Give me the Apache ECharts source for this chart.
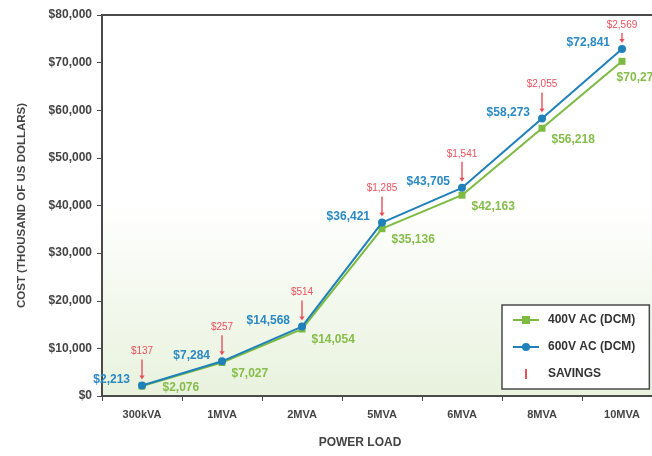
<!DOCTYPE html>
<html>
<head>
<meta charset="utf-8">
<script src="https://cdn.jsdelivr.net/npm/echarts@6/dist/echarts.min.js"></script>
<style>
  html, body { margin: 0; padding: 0; background: #ffffff; }
  #chart { width: 652px; height: 456px; }
</style>
</head>
<body>
<div id="chart"></div>
<script>
// Power load categories
const categories = ['300kVA', '1MVA', '2MVA', '5MVA', '6MVA', '8MVA', '10MVA'];
// Cost in thousand US dollars
const cost400 = [2076, 7027, 14054, 35136, 42163, 56218, 70272];
const cost600 = [2213, 7284, 14568, 36421, 43705, 58273, 72841];
const savings = [137, 257, 514, 1285, 1541, 2055, 2569];

const GREEN = '#7dba42';
const BLUE = '#1f80ba';
const RED = '#e8505c';
const AXIS = '#4a4a4a';
const FONT = '"Liberation Sans", Arial, sans-serif';

const GRID_LEFT = 102, GRID_TOP = 15, GRID_WIDTH = 560, GRID_BOTTOM = 60;
const PLOT_RIGHT = GRID_LEFT + GRID_WIDTH;
const PLOT_BOTTOM = 456 - GRID_BOTTOM;

const money = v => '$' + v.toLocaleString('en-US');

const chart = echarts.init(document.getElementById('chart'), null, { renderer: 'canvas' });

// Savings markers: small red value over a downward arrow, sitting above the 600V point
function renderSaving(params, api) {
  const idx = api.value(0);
  const pt = api.coord([idx, api.value(1)]);
  const top = params.coordSys.y;
  const labelY = Math.max(pt[1] - 34, top + 10);
  const lineTop = labelY + 8;
  const tip = pt[1] - 6;
  return {
    type: 'group',
    children: [
      { type: 'line', shape: { x1: pt[0], y1: lineTop, x2: pt[0], y2: tip - 3 },
        style: { stroke: RED, lineWidth: 1.4 } },
      { type: 'polygon', shape: { points: [[pt[0] - 2.6, tip - 4], [pt[0] + 2.6, tip - 4], [pt[0], tip]] },
        style: { fill: RED } },
      { type: 'text', x: pt[0], y: labelY,
        style: { text: money(api.value(2)), fill: RED, font: '10px ' + FONT, align: 'center', verticalAlign: 'middle' } }
    ]
  };
}

chart.setOption({
  animation: false,
  backgroundColor: '#ffffff',
  textStyle: { fontFamily: FONT },
  grid: {
    left: GRID_LEFT, top: GRID_TOP, width: GRID_WIDTH, bottom: GRID_BOTTOM,
    outerBoundsMode: 'none',
    containLabel: false,
    show: true,
    borderColor: AXIS,
    borderWidth: 2,
    backgroundColor: {
      type: 'linear', x: 0, y: 0, x2: 0, y2: 1,
      colorStops: [
        { offset: 0, color: '#ffffff' },
        { offset: 0.5, color: '#ffffff' },
        { offset: 1, color: '#e8f2dd' }
      ]
    }
  },
  legend: {
    orient: 'vertical',
    left: 502, top: 305,
    padding: [9, 14, 9, 10],
    itemGap: 15,
    itemWidth: 26, itemHeight: 10,
    backgroundColor: '#ffffff',
    borderColor: AXIS, borderWidth: 1.5, borderRadius: 0,
    textStyle: { fontFamily: FONT, fontSize: 12, fontWeight: 'bold', color: '#333333', padding: [0, 0, 0, 4] },
    data: [
      { name: '400V AC (DCM)' },
      { name: '600V AC (DCM)' },
      { name: 'SAVINGS', icon: 'path://M0,0h0.01v0.01zM12,0h2v10h-2zM26,10h-0.01v-0.01z', itemStyle: { color: RED } }
    ]
  },
  xAxis: {
    type: 'category',
    data: categories,
    boundaryGap: true,
    name: 'POWER LOAD',
    nameLocation: 'middle',
    nameGap: 41,
    nameTextStyle: { fontFamily: FONT, fontSize: 12, fontWeight: 'bold', color: '#444444', padding: [0, 44, 0, 0] },
    axisLine: { lineStyle: { color: AXIS, width: 2 } },
    axisTick: { show: true, length: 5, lineStyle: { color: AXIS, width: 1 } },
    axisLabel: { fontFamily: FONT, fontSize: 11, fontWeight: 'bold', color: '#444444', margin: 13 },
    splitLine: { show: false }
  },
  yAxis: {
    type: 'value',
    min: 0, max: 80000, interval: 10000,
    name: 'COST (THOUSAND OF US DOLLARS)',
    nameLocation: 'middle',
    nameGap: 74,
    nameRotate: 90,
    nameTextStyle: { fontFamily: FONT, fontSize: 11.5, fontWeight: 'bold', color: '#444444' },
    axisLine: { show: true, lineStyle: { color: AXIS, width: 2 } },
    axisTick: { show: true, length: 5, lineStyle: { color: AXIS, width: 1 } },
    axisLabel: { fontFamily: FONT, fontSize: 12, fontWeight: 'bold', color: '#444444', margin: 10, formatter: v => money(v) },
    splitLine: { show: false }
  },
  series: [
    {
      name: '400V AC (DCM)',
      type: 'line',
      data: cost400,
      color: GREEN,
      symbol: 'rect', symbolSize: 7,
      lineStyle: { width: 2, color: GREEN },
      itemStyle: { color: GREEN },
      label: {
        show: true, position: 'right', distance: 6,
        fontFamily: FONT, fontSize: 12, fontWeight: 'bold', color: '#86bd4a',
        formatter: p => money(p.value)
      },
      // drop labels below their point, keeping them inside the plot area
      labelLayout: p => {
        const r = p.labelRect;
        let dy = 11, dx = 0;
        if (r.y + r.height + dy > PLOT_BOTTOM - 2) {
          dx = 11;
          dy = PLOT_BOTTOM - 2 - (r.y + r.height);
        }
        if (r.x + r.width > PLOT_RIGHT - 2) {
          dx = PLOT_RIGHT - 2 - (r.x + r.width);
          dy = 16;
        }
        return { dx: dx, dy: dy };
      },
      z: 2
    },
    {
      name: '600V AC (DCM)',
      type: 'line',
      data: cost600,
      color: BLUE,
      symbol: 'circle', symbolSize: 8,
      lineStyle: { width: 2, color: BLUE },
      itemStyle: { color: BLUE },
      label: {
        show: true, position: 'left', distance: 8, offset: [0, -6],
        fontFamily: FONT, fontSize: 12, fontWeight: 'bold', color: '#2a89c2',
        formatter: p => money(p.value)
      },
      z: 3
    },
    {
      name: 'SAVINGS',
      type: 'custom',
      color: RED,
      renderItem: renderSaving,
      data: categories.map((c, i) => [i, cost600[i], savings[i]]),
      z: 4
    }
  ]
});
</script>
</body>
</html>
